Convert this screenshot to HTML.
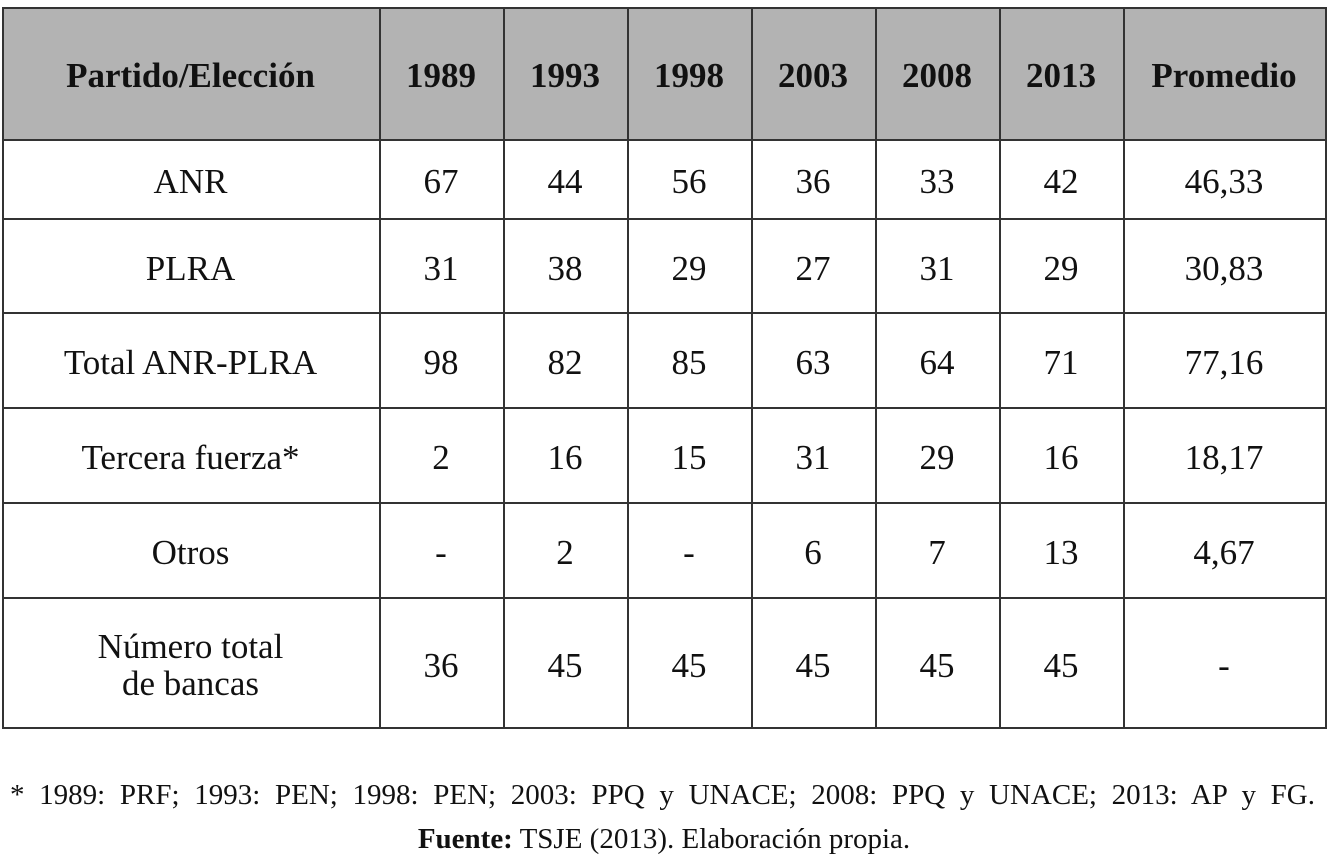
<!DOCTYPE html>
<html><head><meta charset="utf-8"><style>
body{margin:0;width:1328px;height:864px;background:#fff;position:relative;overflow:hidden;font-family:"Liberation Serif",serif;color:#111}
.c{position:absolute;display:flex;align-items:center;justify-content:center;text-align:center;font-size:35px;line-height:1.05;box-sizing:border-box;padding-top:8px}
.h{background:#b3b3b3;font-weight:bold;font-size:35px;padding-top:6px}
.hl{position:absolute;height:2px;background:#333}
.vl{position:absolute;width:2px;background:#333}
.f{position:absolute;font-size:29px;white-space:nowrap}
</style></head><body>
<div id="t"></div>
<div class="f" style="left:10px;top:779px;width:1305px;text-align:justify;text-align-last:justify">* 1989: PRF; 1993: PEN; 1998: PEN; 2003: PPQ y UNACE; 2008: PPQ y UNACE; 2013: AP y FG.</div>
<div class="f" style="left:0;top:823px;width:1328px;text-align:center"><b>Fuente:</b> TSJE (2013). Elaboración propia.</div>
<script>
const xs=[2,379,503,627,751,875,999,1123,1325];
const ys=[7,139,218,312,407,502,597,727];
const rows=[["Partido/Elección","1989","1993","1998","2003","2008","2013","Promedio"],
["ANR","67","44","56","36","33","42","46,33"],
["PLRA","31","38","29","27","31","29","30,83"],
["Total ANR-PLRA","98","82","85","63","64","71","77,16"],
["Tercera fuerza*","2","16","15","31","29","16","18,17"],
["Otros","-","2","-","6","7","13","4,67"],
["Número total<br>de bancas","36","45","45","45","45","45","-"]];
let h="";
rows.forEach((r,i)=>r.forEach((t,j)=>{
h+=`<div class="c${i==0?' h':''}" style="left:${xs[j]}px;top:${ys[i]}px;width:${xs[j+1]-xs[j]}px;height:${ys[i+1]-ys[i]}px">${t}</div>`;}));
ys.forEach(y=>h+=`<div class="hl" style="left:2px;width:1325px;top:${y}px"></div>`);
xs.forEach(x=>h+=`<div class="vl" style="left:${x}px;top:7px;height:722px"></div>`);
document.getElementById("t").innerHTML=h;
</script>
</body></html>
